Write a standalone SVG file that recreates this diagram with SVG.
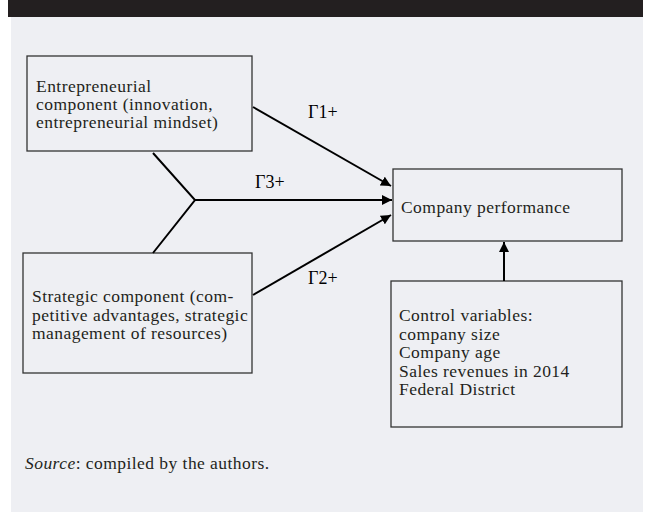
<svg xmlns="http://www.w3.org/2000/svg" width="648" height="512" viewBox="0 0 648 512">
<defs>
<marker id="ah" viewBox="0 0 10 10" refX="10" refY="5" markerWidth="5" markerHeight="5" orient="auto" markerUnits="strokeWidth">
<path d="M0,0 L10,5 L0,10 z" fill="#000"/>
</marker>
<style>
.box{fill:none;stroke:#333;stroke-width:1.3}
.t{font-family:"Liberation Serif","Times New Roman",serif;font-size:17.5px;letter-spacing:0.45px;fill:#231f20}
.lbl{font-family:"Liberation Serif","Times New Roman",serif;font-size:18px;fill:#000}
.c{fill:none;stroke:#000;stroke-width:2}
</style>
</defs>
<rect x="0" y="0" width="648" height="512" fill="#ffffff"/>
<rect x="8" y="0" width="635" height="17" fill="#231f20"/>
<rect x="11" y="17" width="632" height="495" fill="#eeeff3"/>
<g id="entrepreneurial">
<rect class="box" x="27" y="56" width="225" height="95"/>
<text class="t" x="36" y="92">Entrepreneurial</text>
<text class="t" x="36" y="110">component (innovation,</text>
<text class="t" x="36" y="128">entrepreneurial mindset)</text>
</g>
<g id="strategic">
<rect class="box" x="23" y="253" width="229" height="120"/>
<text class="t" x="32" y="302">Strategic component (com-</text>
<text class="t" x="32" y="320.5">petitive advantages, strategic</text>
<text class="t" x="32" y="339">management of resources)</text>
</g>
<g id="performance">
<rect class="box" x="393" y="169" width="229" height="72"/>
<text class="t" x="401" y="213">Company performance</text>
</g>
<g id="control">
<rect class="box" x="391" y="281" width="231" height="146"/>
<text class="t" x="399" y="321">Control variables:</text>
<text class="t" x="399" y="339.5">company size</text>
<text class="t" x="399" y="358">Company age</text>
<text class="t" x="399" y="376.5">Sales revenues in 2014</text>
<text class="t" x="399" y="395">Federal District</text>
</g>
<g id="connectors">
<line class="c" x1="253" y1="107" x2="391" y2="186" marker-end="url(#ah)"/>
<polyline class="c" points="153,153 195,200 153,253"/>
<line class="c" x1="195" y1="200" x2="392" y2="200" marker-end="url(#ah)"/>
<line class="c" x1="253" y1="295" x2="391" y2="215" marker-end="url(#ah)"/>
<line class="c" x1="504" y1="281" x2="504" y2="242" marker-end="url(#ah)"/>
<text class="lbl" x="308" y="118">Γ1+</text>
<text class="lbl" x="255" y="188">Γ3+</text>
<text class="lbl" x="308" y="284">Γ2+</text>
</g>
<text class="t" x="25" y="469"><tspan font-style="italic">Source</tspan>: compiled by the authors.</text>
</svg>
